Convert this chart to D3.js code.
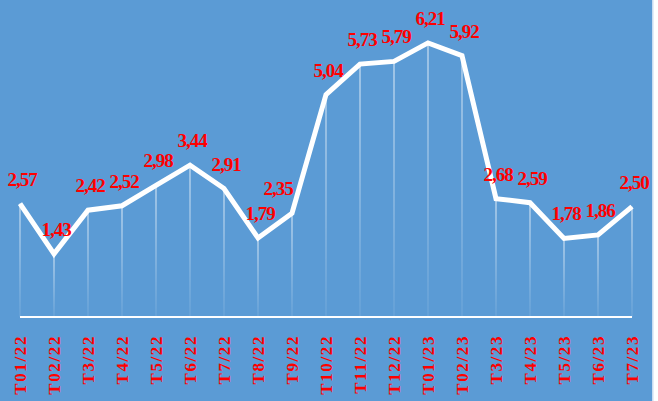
<!DOCTYPE html>
<html>
<head>
<meta charset="utf-8">
<script src="https://cdn.jsdelivr.net/npm/d3@7"></script>
<style>
  body { margin: 0; background: #fff; }
  svg { display: block; }
</style>
</head>
<body>
<div id="chart"></div>
<script>
// dữ liệu theo tháng
var months = ["T01/22", "T02/22", "T3/22", "T4/22", "T5/22", "T6/22", "T7/22", "T8/22", "T9/22",
              "T10/22", "T11/22", "T12/22", "T01/23", "T02/23", "T3/23", "T4/23", "T5/23", "T6/23", "T7/23"];
var values = [2.57, 1.43, 2.42, 2.52, 2.98, 3.44, 2.91, 1.79, 2.35,
              5.04, 5.73, 5.79, 6.21, 5.92, 2.68, 2.59, 1.78, 1.86, 2.50];

var width = 658, height = 401;
var red = "#FF0000";
var font = "'Liberation Serif', 'Times New Roman', serif";

var svg = d3.select("#chart").append("svg")
    .attr("width", width)
    .attr("height", height);

// nền xanh
svg.append("rect")
    .attr("x", 0).attr("y", 0)
    .attr("width", 652).attr("height", height)
    .attr("fill", "#5B9BD5");
svg.append("rect")
    .attr("x", 652).attr("y", 0)
    .attr("width", 1.5).attr("height", height)
    .attr("fill", "#C9DDF2");

var x = d3.scalePoint()
    .domain(months)
    .range([20, 632]);

var y = d3.scaleLinear()
    .domain([0, 7])
    .range([317, 8]);

var defs = svg.append("defs");
var grad = defs.append("linearGradient")
    .attr("id", "drop")
    .attr("x1", 0).attr("y1", 0).attr("x2", 0).attr("y2", 1);
grad.append("stop").attr("offset", "0%").attr("stop-color", "#fff").attr("stop-opacity", 0.7);
grad.append("stop").attr("offset", "100%").attr("stop-color", "#fff").attr("stop-opacity", 0.1);

// đường thả xuống trục
svg.selectAll(".drop")
    .data(values)
    .enter()
    .append("rect")
    .attr("class", "drop")
    .attr("x", (d, i) => x(months[i]) - 0.6)
    .attr("y", d => y(d))
    .attr("width", 1.2)
    .attr("height", d => y(0) - y(d))
    .attr("fill", "url(#drop)");

// trục ngang
svg.append("line")
    .attr("x1", x(months[0]))
    .attr("x2", x(months[months.length - 1]))
    .attr("y1", y(0))
    .attr("y2", y(0))
    .attr("stroke", "#fff")
    .attr("stroke-width", 2.2);

// đường chính
var line = d3.line()
    .x((d, i) => x(months[i]))
    .y(d => y(d));

svg.append("path")
    .datum(values)
    .attr("d", line)
    .attr("fill", "none")
    .attr("stroke", "#fff")
    .attr("stroke-width", 5)
    .attr("stroke-linejoin", "miter");

// nhãn giá trị (dịch sang trái nếu điểm sau tăng vọt)
svg.selectAll(".val")
    .data(values)
    .enter()
    .append("text")
    .attr("class", "val")
    .attr("x", function (d, i) {
        var shift = (i < values.length - 1 && values[i + 1] - d > 2) ? -14 : 2;
        return x(months[i]) + shift;
    })
    .attr("y", d => y(d) - 18)
    .attr("text-anchor", "middle")
    .style("font-family", font)
    .style("font-weight", "bold")
    .style("font-size", "19px")
    .style("letter-spacing", "-1px")
    .style("fill", red)
    .text(d => d.toFixed(2).replace(".", ","));

// nhãn tháng
svg.selectAll(".month")
    .data(months)
    .enter()
    .append("text")
    .attr("class", "month")
    .attr("transform", d => "translate(" + (x(d) + 6) + ",335) rotate(-90)")
    .attr("text-anchor", "end")
    .style("font-family", font)
    .style("font-weight", "bold")
    .style("font-size", "17px")
    .style("letter-spacing", "1.6px")
    .style("fill", red)
    .text(d => d);
</script>
</body>
</html>
